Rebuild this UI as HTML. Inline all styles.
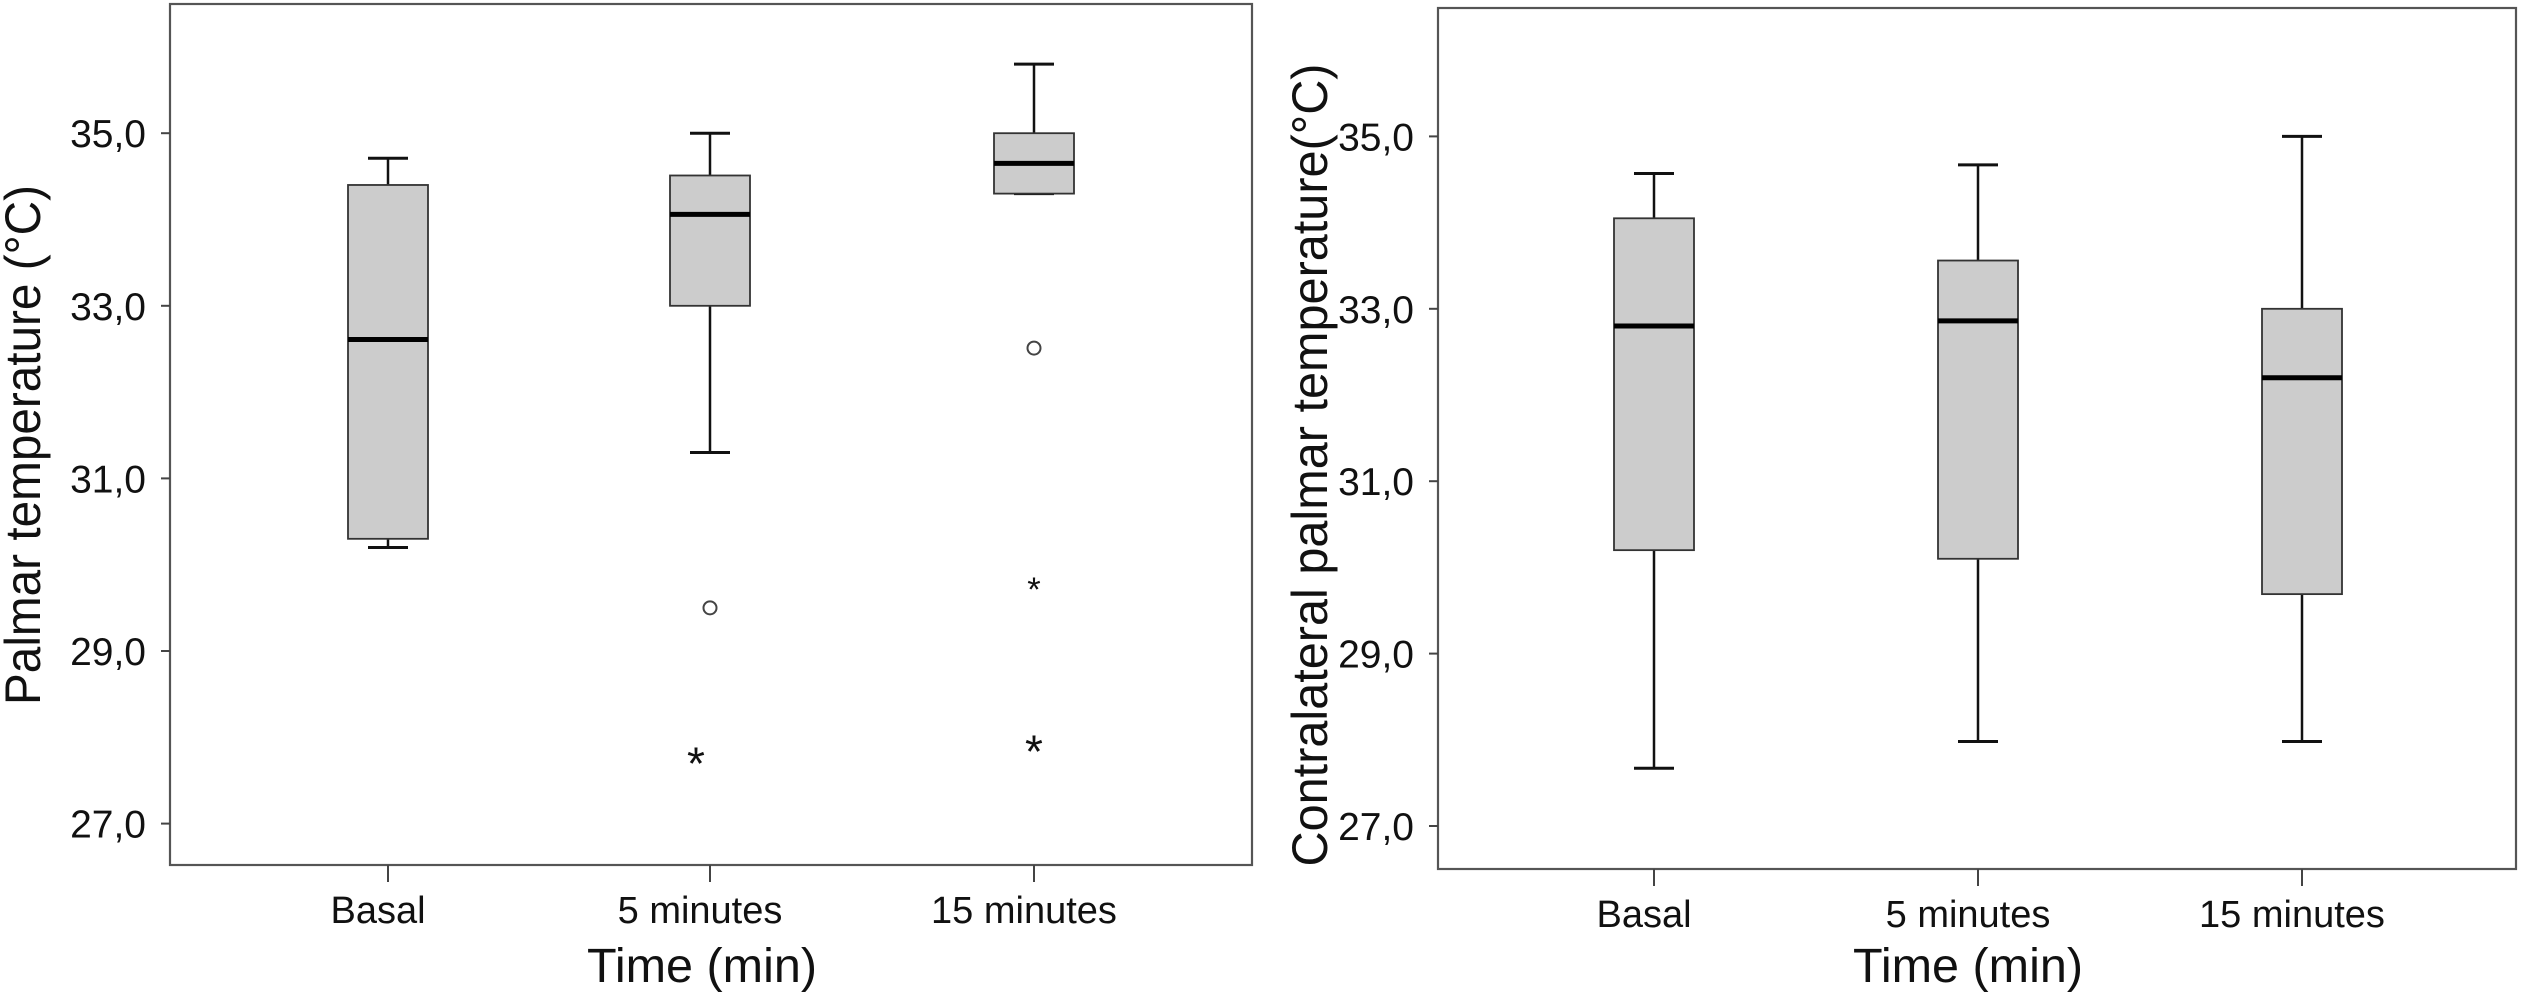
<!DOCTYPE html>
<html><head><meta charset="utf-8"><style>
html,body{margin:0;padding:0;background:#fff;}
svg{display:block;font-family:"Liberation Sans",Arial,sans-serif;}
</style></head><body>
<svg id="chart" width="2524" height="993" viewBox="0 0 2524 993" xmlns="http://www.w3.org/2000/svg"></svg>
<script>
const categories = ["Basal", "5 minutes", "15 minutes"];
const yTicks = [27, 29, 31, 33, 35];
const tickLabels = ["27,0", "29,0", "31,0", "33,0", "35,0"];
// left panel: [min, q1, median, q3, max]
const leftMin = [30.20, 31.30, 34.30];
const leftQ1 = [30.30, 33.00, 34.30];
const leftMed = [32.61, 34.06, 34.65];
const leftQ3 = [34.40, 34.51, 35.00];
const leftMax = [34.71, 35.00, 35.80];
const leftCircleCat = [1, 2];
const leftCircleVal = [29.50, 32.51];
const leftStarCat = [1, 2, 2];
const leftStarVal = [27.79, 27.93, 29.79];
const leftStarSize = [1, 1, 0.75];
// right panel
const rightMin = [27.67, 27.98, 27.98];
const rightQ1 = [30.20, 30.10, 29.69];
const rightMed = [32.80, 32.86, 32.20];
const rightQ3 = [34.05, 33.56, 33.00];
const rightMax = [34.57, 34.67, 35.00];

const NS = "http://www.w3.org/2000/svg";
const svg = document.getElementById("chart");
function mk(tag, attrs, parent) {
  const e = document.createElementNS(NS, tag);
  for (const k in attrs) e.setAttribute(k, attrs[k]);
  (parent || svg).appendChild(e);
  return e;
}

function panel(cfg) {
  const g = mk("g", {});
  
  
  const y = v => cfg.y27 - (v - 27) * cfg.unit;
  const x = i => cfg.cx[i];
  const frame = mk("rect", {x: cfg.left, y: cfg.top, width: cfg.right - cfg.left, height: cfg.bottom - cfg.top, fill: "none", stroke: "#555", "stroke-width": 2.2}, g);
  
  
  yTicks.forEach((t, i) => {
    const tk = mk("line", {x1: cfg.left - 9, x2: cfg.left, y1: y(t), y2: y(t), stroke: "#444", "stroke-width": 2}, g);
    
    
    const tl = mk("text", {x: cfg.left - 24, y: y(t) + 14, "text-anchor": "end", "font-size": 39, fill: "#111"}, g);
    tl.textContent = tickLabels[i];
    
    
  });
  categories.forEach((c, i) => {
    const tk = mk("line", {x1: x(i), x2: x(i), y1: cfg.bottom, y2: cfg.bottom + 17, stroke: "#444", "stroke-width": 2}, g);
    
    
    const tl = mk("text", {x: x(i) - 10, y: cfg.bottom + 58, "text-anchor": "middle", "font-size": 38, fill: "#111"}, g);
    tl.textContent = c;
    
    
  });
  const hw = 40, cap = 20;
  categories.forEach((c, i) => {
    const bg = mk("g", {}, g);
    
    
    mk("line", {x1: x(i), x2: x(i), y1: y(cfg.max[i]), y2: y(cfg.q3[i]), stroke: "#111", "stroke-width": 2.5}, bg);
    mk("line", {x1: x(i), x2: x(i), y1: y(cfg.q1[i]), y2: y(cfg.min[i]), stroke: "#111", "stroke-width": 2.5}, bg);
    mk("line", {x1: x(i) - cap, x2: x(i) + cap, y1: y(cfg.max[i]), y2: y(cfg.max[i]), stroke: "#111", "stroke-width": 3}, bg);
    mk("line", {x1: x(i) - cap, x2: x(i) + cap, y1: y(cfg.min[i]), y2: y(cfg.min[i]), stroke: "#111", "stroke-width": 3}, bg);
    mk("rect", {x: x(i) - hw, y: y(cfg.q3[i]), width: 2 * hw, height: y(cfg.q1[i]) - y(cfg.q3[i]), fill: "#cccccc", stroke: "#333", "stroke-width": 1.8}, bg);
    mk("line", {x1: x(i) - hw, x2: x(i) + hw, y1: y(cfg.med[i]), y2: y(cfg.med[i]), stroke: "#000", "stroke-width": 5}, bg);
  });
  (cfg.circCat || []).forEach((ci, k) => {
    const c = mk("circle", {cx: x(ci), cy: y(cfg.circVal[k]), r: 6.5, fill: "none", stroke: "#444", "stroke-width": 2}, g);
    
    
  });
  (cfg.starCat || []).forEach((ci, k) => {
    const s = cfg.starSize[k];
    const dx = ci === 1 ? -14 : 0;
    const t = mk("text", {x: x(ci) + dx, y: y(cfg.starVal[k]) + 24 * s, "text-anchor": "middle", "font-size": 46 * s, fill: "#111"}, g);
    t.textContent = "*";
    
    
  });
  const yt = mk("text", {x: 0, y: 0, "text-anchor": "middle", "font-size": 50, fill: "#111", textLength: cfg.ytLen, lengthAdjust: "spacingAndGlyphs", transform: `translate(${cfg.ytX},${cfg.ytY}) rotate(-90)`}, g);
  yt.textContent = cfg.ytitle;
  
  
  const xt = mk("text", {x: cfg.xtX, y: 982, "text-anchor": "middle", "font-size": 48, fill: "#111", textLength: 230, lengthAdjust: "spacingAndGlyphs"}, g);
  xt.textContent = "Time (min)";
  
  
}

panel({name: "left-panel", left: 170, right: 1252, top: 4, bottom: 865, y27: 823.6, unit: 86.3,
  cx: [388, 710, 1034], min: leftMin, q1: leftQ1, med: leftMed, q3: leftQ3, max: leftMax,
  circCat: leftCircleCat, circVal: leftCircleVal, starCat: leftStarCat, starVal: leftStarVal, starSize: leftStarSize,
  ytitle: "Palmar temperature (°C)", ytX: 40, ytY: 445, ytLen: 520, xtX: 702});
panel({name: "right-panel", left: 1438, right: 2516, top: 8, bottom: 869, y27: 826, unit: 86.2,
  cx: [1654, 1978, 2302], min: rightMin, q1: rightQ1, med: rightMed, q3: rightQ3, max: rightMax,
  ytitle: "Contralateral palmar temperature(°C)", ytX: 1327, ytY: 465, ytLen: 803, xtX: 1968});
</script>
</body></html>
